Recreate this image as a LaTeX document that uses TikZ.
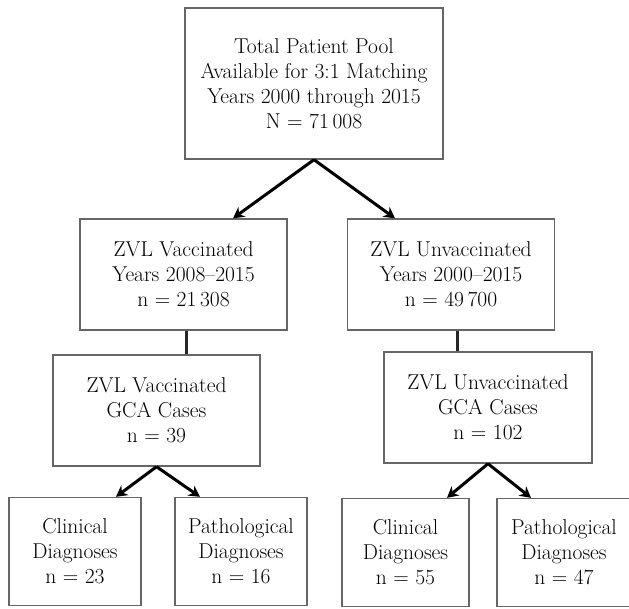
\documentclass[tikz,border=0pt]{standalone}
\usepackage{fontspec}
\usetikzlibrary{arrows.meta, positioning, calc}

\begin{document}
\begin{tikzpicture}[
  x=1pt, y=-1pt,
  box/.style  = {rectangle, draw=black!60, line width=1.4pt, fill=white,
                 inner sep=0pt, align=center,
                 font=\fontsize{21.5}{25}\selectfont},
  midbox/.style  = {box, minimum width=207pt, minimum height=111pt},
  leafbox/.style = {box, minimum width=132pt, minimum height=108pt},
  arr/.style  = {-{Stealth[length=11pt, width=12pt]}, line width=3pt},
  link/.style = {line width=3pt, draw=black!85}
]
\useasboundingbox (0,0) rectangle (629,608);

\node[box, minimum width=258pt, minimum height=151pt] (pool) at (314,83.5)
  {Total Patient Pool\\Available for 3:1 Matching\\Years 2000 through 2015\\N = 71\,008};

\node[midbox] (vac)   at (183.5,274.5) {ZVL Vaccinated\\Years 2008--2015\\n = 21\,308};
\node[midbox] (unvac) at (451,274.5)   {ZVL Unvaccinated\\Years 2000--2015\\n = 49\,700};

\node[midbox] (vacgca)   at (156.5,410.5) {ZVL Vaccinated\\GCA Cases\\n = 39};
\node[midbox, minimum width=208pt] (unvacgca) at (488,407.5) {ZVL Unvaccinated\\GCA Cases\\n = 102};

\node[leafbox] (vacclin) at (75,551.5)  {Clinical\\Diagnoses\\n = 23};
\node[leafbox] (vacpath) at (241,551.5) {Pathological\\Diagnoses\\n = 16};
\node[leafbox, minimum width=127pt] (unvacclin) at (405.5,552.5) {Clinical\\Diagnoses\\n = 55};
\node[leafbox, minimum width=134pt] (unvacpath) at (564,552.5)  {Pathological\\Diagnoses\\n = 47};

\draw[arr] (pool.south) -- ([xshift=49.5pt]vac.north);
\draw[arr] (pool.south) -- ([xshift=-56pt]unvac.north);

\draw[link] ([xshift=2.5pt]vac.south) -- ([xshift=2.5pt]vac.south |- vacgca.north);
\draw[link] ([xshift=6pt]unvac.south) -- ([xshift=6pt]unvac.south |- unvacgca.north);

% diagnoses
\draw[arr] (vacgca.south) -- ([xshift=41pt]vacclin.north);
\draw[arr] (vacgca.south) -- ([xshift=-41pt]vacpath.north);
\draw[arr] (unvacgca.south) -- ([xshift=41.5pt]unvacclin.north);
\draw[arr] (unvacgca.south) -- ([xshift=-33pt]unvacpath.north);

\end{tikzpicture}
\end{document}
